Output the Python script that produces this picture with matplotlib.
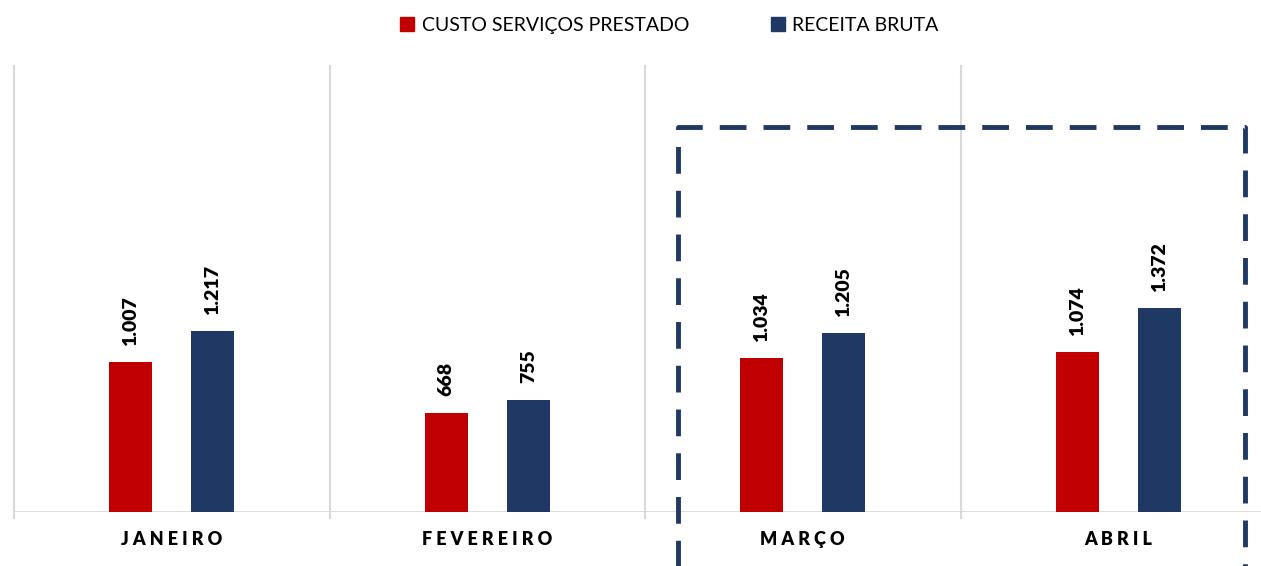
import matplotlib.pyplot as plt
from matplotlib.patches import Patch
from matplotlib.lines import Line2D
import numpy as np

# chart data
meses = ["JANEIRO", "FEVEREIRO", "MARÇO", "ABRIL"]
custo = [1007, 668, 1034, 1074]
receita = [1217, 755, 1205, 1372]
rotulos_custo = ["1.007", "668", "1.034", "1.074"]
rotulos_receita = ["1.217", "755", "1.205", "1.372"]

vermelho = "#C00000"
azul = "#203864"
cinza = "#D9D9D9"

plt.rcParams['font.family'] = ['Lato', 'DejaVu Sans']

fig = plt.figure(figsize=(12.61, 5.66), dpi=100)
ax = fig.add_axes([14 / 1261, 54 / 566, 1262 / 1261, 446 / 566])

x = np.arange(len(meses))
largura = 0.137
desloc = 0.13

ax.bar(x - desloc, custo, largura, color=vermelho, zorder=3)
ax.bar(x + desloc, receita, largura, color=azul, zorder=3)

for i in range(len(meses)):
    ax.text(x[i] - desloc, custo[i] + 110, rotulos_custo[i], rotation=90,
            ha="center", va="bottom", fontsize=14, fontweight="heavy")
    ax.text(x[i] + desloc, receita[i] + 110, rotulos_receita[i], rotation=90,
            ha="center", va="bottom", fontsize=14, fontweight="heavy")

ax.set_xlim(-0.5, 3.5)
ax.set_ylim(0, 3000)

# separators between categories
for b in np.arange(-0.5, 4.0, 1.0):
    ax.plot([b, b], [-40, 3000], color=cinza, lw=1.5, clip_on=False, zorder=1)
ax.axhline(0, color=cinza, lw=2, zorder=2)

for s in ax.spines.values():
    s.set_visible(False)
ax.set_xticks([])
ax.set_yticks([])

# category labels, letter-spaced
for i, m in enumerate(meses):
    ax.text(x[i], -185, " ".join(m), ha="center", va="center",
            fontsize=13, fontweight="heavy")

# dashed highlight box around MARÇO / ABRIL
x0, x1, ytop, ybot = 1.605, 3.402, 2590, -500
caixa = Line2D([x0, x0, x1, x1], [ybot, ytop, ytop, ybot], color=azul,
               lw=3.5, linestyle=(0, (5.5, 3.5)), clip_on=False, zorder=4)
ax.add_line(caixa)

handles = [Patch(color=vermelho, label="CUSTO SERVIÇOS PRESTADO"),
           Patch(color=azul, label="RECEITA BRUTA")]
fig.legend(handles=handles, loc="center", bbox_to_anchor=(0.531, 0.955), ncol=2,
           frameon=False, fontsize=14, handlelength=0.7, handleheight=0.7,
           handletextpad=0.4, columnspacing=4.2)

fig.savefig("out.png", dpi=100)
